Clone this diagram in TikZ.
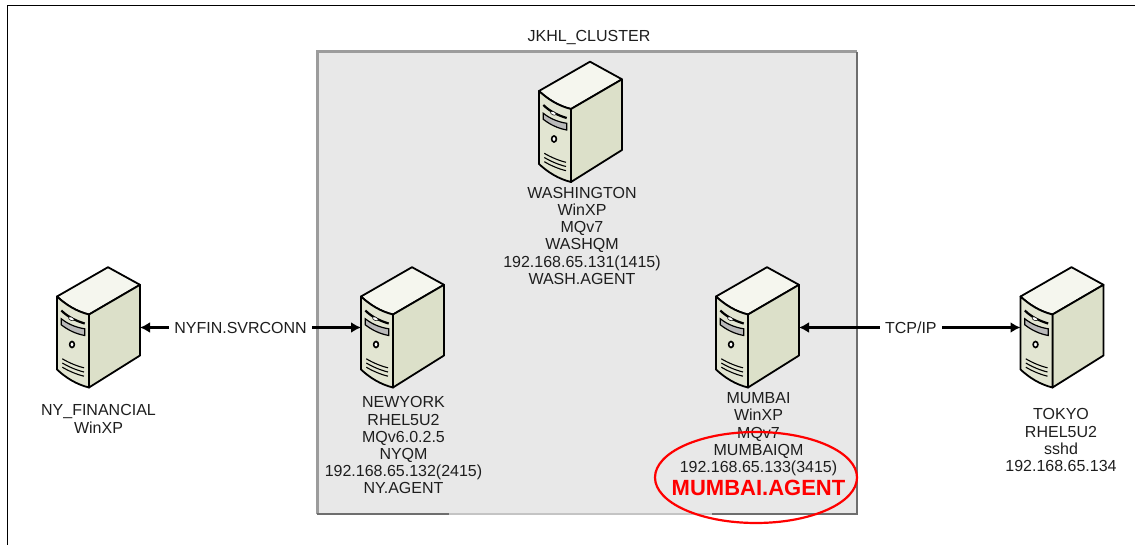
\documentclass[tikz,border=0pt]{standalone}
\usepackage{fontspec}
\setmainfont{Liberation Sans}
\usepackage{tikz}
\usetikzlibrary{positioning,shapes.geometric,arrows.meta}
\definecolor{clusterbg}{HTML}{E8E8E8}
\definecolor{bevellight}{HTML}{9C9C9C}
\definecolor{beveldark}{HTML}{6E6E6E}
\definecolor{srvtop}{HTML}{F5F6EE}
\definecolor{srvside}{HTML}{DCE0C9}
\definecolor{srvfront}{HTML}{E2E5D2}
\definecolor{labelink}{HTML}{1E1E1E}
\tikzset{
  server/.style={minimum width=83pt, minimum height=120pt, inner sep=0pt, outer sep=0pt},
  srvlabel/.style={align=center, inner sep=0pt, text=labelink, font=\fontsize{16}{17.2}\selectfont},
  link/.style={<->, >={Latex[length=10pt,width=11pt]}, line width=2.2pt, black},
  linklabel/.style={fill=white, inner xsep=5pt, inner ysep=3pt, text=labelink, font=\fontsize{16}{17.2}\selectfont},
  pics/srvbox/.style={code={
    \draw[line width=1.8pt, line join=round, fill=srvtop] (-41.5,-31) -- (9.5,-60.3) -- (41.5,-42.7) -- (-9.5,-13) .. controls (-22,-16) and (-33,-23) .. cycle;
    \draw[line width=1.8pt, line join=round, fill=srvside] (-9.5,-13) -- (41.5,-42.7) -- (41.5,28) -- (-9.5,60) -- cycle;
    \draw[line width=1.8pt, line join=round, fill=srvfront] (-41.5,-31) .. controls (-33,-23) and (-22,-16) .. (-9.5,-13) -- (-9.5,60) .. controls (-22,57) and (-33,50) .. (-41.5,42) -- cycle;
    \draw[line width=2.2pt] (-37.2,-17) .. controls (-30,-10) and (-22,-6.5) .. (-13.8,-4);
    \draw[line width=.5pt, fill=white] (-27.2,-8.7) ellipse [x radius=3, y radius=1.6, rotate=-25];
    \draw[line width=1.2pt, fill=gray!55] (-37.2,-8.7) .. controls (-30,-3) and (-22,0) .. (-13.8,1.3) -- (-13.8,8) .. controls (-22,6.5) and (-30,3) .. (-37.2,-2.7) -- cycle;
    \draw[line width=1.6pt, fill=white] (-26.5,17) ellipse [x radius=2.4, y radius=3];
    \foreach \ventshift in {0,4.2,8.4}
      \draw[line width=1.1pt] (-36.2,31.3+\ventshift) .. controls (-30,35+\ventshift) and (-22,38.5+\ventshift) .. (-14.5,40.3+\ventshift);
  }}
}
\begin{document}
\begin{tikzpicture}[x=1pt, y=-1pt]
  \useasboundingbox (0,0) rectangle (1135,545);
  \draw[line width=1.6pt] (7.5,545) -- (7.5,5.5) -- (1135,5.5);

  % cluster box
  \node[fill=clusterbg, minimum width=540pt, minimum height=462pt, inner sep=0pt, outer sep=0pt] (cluster) at (587,283) {};
  \node[srvlabel, above=7pt of cluster, xshift=2pt] (clustername) {JKHL\_CLUSTER};
  \draw[bevellight, line width=3pt] (cluster.south west) -- (cluster.north west) -- (cluster.north east);
  \draw[beveldark, line width=2.6pt] (cluster.north east) -- (cluster.south east) -- ++(-145,0);
  \draw[bevellight!60, line width=1.4pt] (cluster.south east) ++(-145,0) -- ++(-263,0);
  \draw[beveldark, line width=2.6pt] (cluster.south west) -- ++(132,0);

  % servers
  \node[server] (nyfinancial) at (98.5,327.5) {};
  \node[server] (newyork) at (402.5,327.5) {};
  \node[server] (washington) at (580.5,122) {};
  \node[server] (mumbai) at (757.5,327.5) {};
  \node[server] (tokyo) at (1062,327.5) {};
  \foreach \srv in {nyfinancial,newyork,washington,mumbai,tokyo}
    \pic at (\srv) {srvbox};

  \node[srvlabel, below=17pt of nyfinancial] (nyfinancialtext) {NY\_FINANCIAL\\WinXP};
  \node[srvlabel, below=9pt of newyork, xshift=1pt] (newyorktext) {NEWYORK\\RHEL5U2\\MQv6.0.2.5\\NYQM\\192.168.65.132(2415)\\NY.AGENT};
  \node[srvlabel, below=5pt of washington, xshift=1.5pt] (washingtontext) {WASHINGTON\\WinXP\\MQv7\\WASHQM\\192.168.65.131(1415)\\WASH.AGENT};
  \node[srvlabel, below=5pt of mumbai, xshift=1pt] (mumbaitext) {MUMBAI\\WinXP\\MQv7\\MUMBAIQM\\192.168.65.133(3415)};
  \node[srvlabel, below=21pt of tokyo, xshift=-1pt] (tokyotext) {TOKYO\\RHEL5U2\\sshd\\192.168.65.134};
  \node[below=4pt of mumbaitext, inner sep=0pt, red, font=\fontsize{22}{24}\selectfont\bfseries] (mumbaiagent) {MUMBAI.AGENT};
  \node[ellipse, draw=red, line width=2.2pt, minimum width=202pt, minimum height=91pt, inner sep=0pt] (highlight) at (756,477.5) {};

  \path[link]
  (nyfinancial) edge node [linklabel, pos=.455] {NYFIN.SVRCONN} (newyork)
  (mumbai) edge node [linklabel, pos=.505] {TCP/IP} (tokyo)
;
\end{tikzpicture}
\end{document}
